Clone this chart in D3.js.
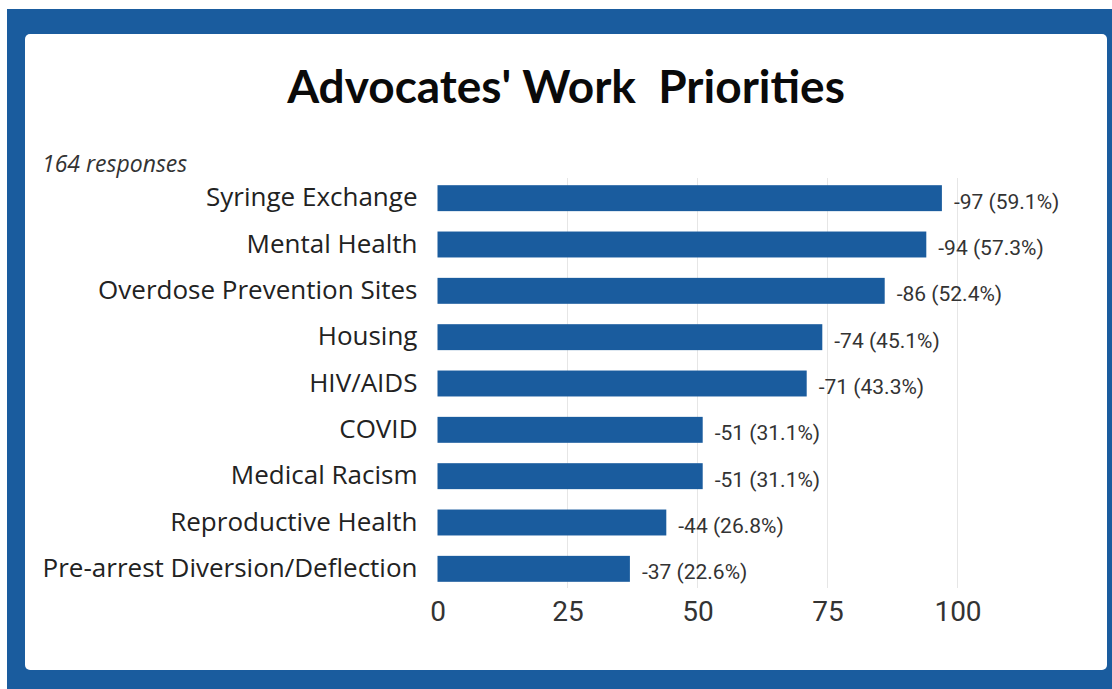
<!DOCTYPE html>
<meta charset="utf-8">
<style>
body { margin: 0; background: #fff; }
svg { display: block; }
.grid line { stroke: #e6e6e6; stroke-width: 1; }
.axis path, .axis line { display: none; }
</style>
<body>
<svg width="1112" height="689"></svg>
<script src="https://d3js.org/d3.v7.min.js"></script>
<script>

var categories = ["Syringe Exchange", "Mental Health", "Overdose Prevention Sites", "Housing",
    "HIV/AIDS", "COVID", "Medical Racism", "Reproductive Health", "Pre-arrest Diversion/Deflection"];
var counts = [97, 94, 86, 74, 71, 51, 51, 44, 37];
var percents = ["59.1%", "57.3%", "52.4%", "45.1%", "43.3%", "31.1%", "31.1%", "26.8%", "22.6%"];
var ticks = [0, 25, 50, 75, 100];

var data = categories.map(function(c, i) {
    return {name: c, value: counts[i], pct: percents[i]};
});

var blue = "#1a5c9e";

var svg = d3.select("svg");

// frame
svg.append("rect").attr("x", 7).attr("y", 9).attr("width", 1105).attr("height", 680).attr("fill", blue);
svg.append("rect").attr("x", 25).attr("y", 34).attr("width", 1082).attr("height", 636)
    .attr("rx", 5).attr("fill", "#fff");

svg.append("text")
    .attr("x", 566).attr("y", 103)
    .attr("text-anchor", "middle")
    .style("font", "700 46px Lato")
    .attr("fill", "#0a0a0a")
    .text("Advocates' Work\u00a0 Priorities");

svg.append("text")
    .attr("x", 42).attr("y", 172)
    .style("font", "italic 23px 'Open Sans'")
    .attr("fill", "#333")
    .text("164 responses");

var x = d3.scaleLinear().domain([0, 100]).range([437.5, 957.5]);
var y = d3.scaleBand().domain(categories).range([175, 592]).paddingInner(0.44).paddingOuter(0.22);

// gridlines
svg.append("g").attr("class", "grid")
    .selectAll("line").data(ticks.slice(1)).enter().append("line")
    .attr("x1", function(d) { return x(d); })
    .attr("x2", function(d) { return x(d); })
    .attr("y1", 178).attr("y2", 588);

svg.selectAll(".bar").data(data).enter().append("rect")
    .attr("class", "bar")
    .attr("x", x(0))
    .attr("y", function(d) { return y(d.name); })
    .attr("width", function(d) { return x(d.value) - x(0); })
    .attr("height", y.bandwidth())
    .attr("fill", blue);

// category labels
var yAxis = svg.append("g").attr("class", "axis")
    .attr("transform", "translate(" + (x(0) - 2) + ",0)")
    .call(d3.axisLeft(y).tickSize(0).tickPadding(18));
yAxis.selectAll("text").style("font", "26px 'Open Sans'").attr("fill", "#222");

// value labels
svg.selectAll(".val").data(data).enter().append("text")
    .attr("class", "val")
    .attr("x", function(d) { return x(d.value) + 12; })
    .attr("y", function(d) { return y(d.name) + y.bandwidth() / 2 + 3; })
    .attr("dy", "0.35em")
    .style("font", "21px Roboto")
    .attr("fill", "#333")
    .text(function(d) { return "-" + d.value + " (" + d.pct + ")"; });

// x axis
var xAxis = svg.append("g").attr("class", "axis")
    .attr("transform", "translate(0,596)")
    .call(d3.axisBottom(x).tickValues(ticks).tickSize(0).tickPadding(5));
xAxis.selectAll("text").style("font", "28px Roboto").attr("fill", "#333");

</script>
